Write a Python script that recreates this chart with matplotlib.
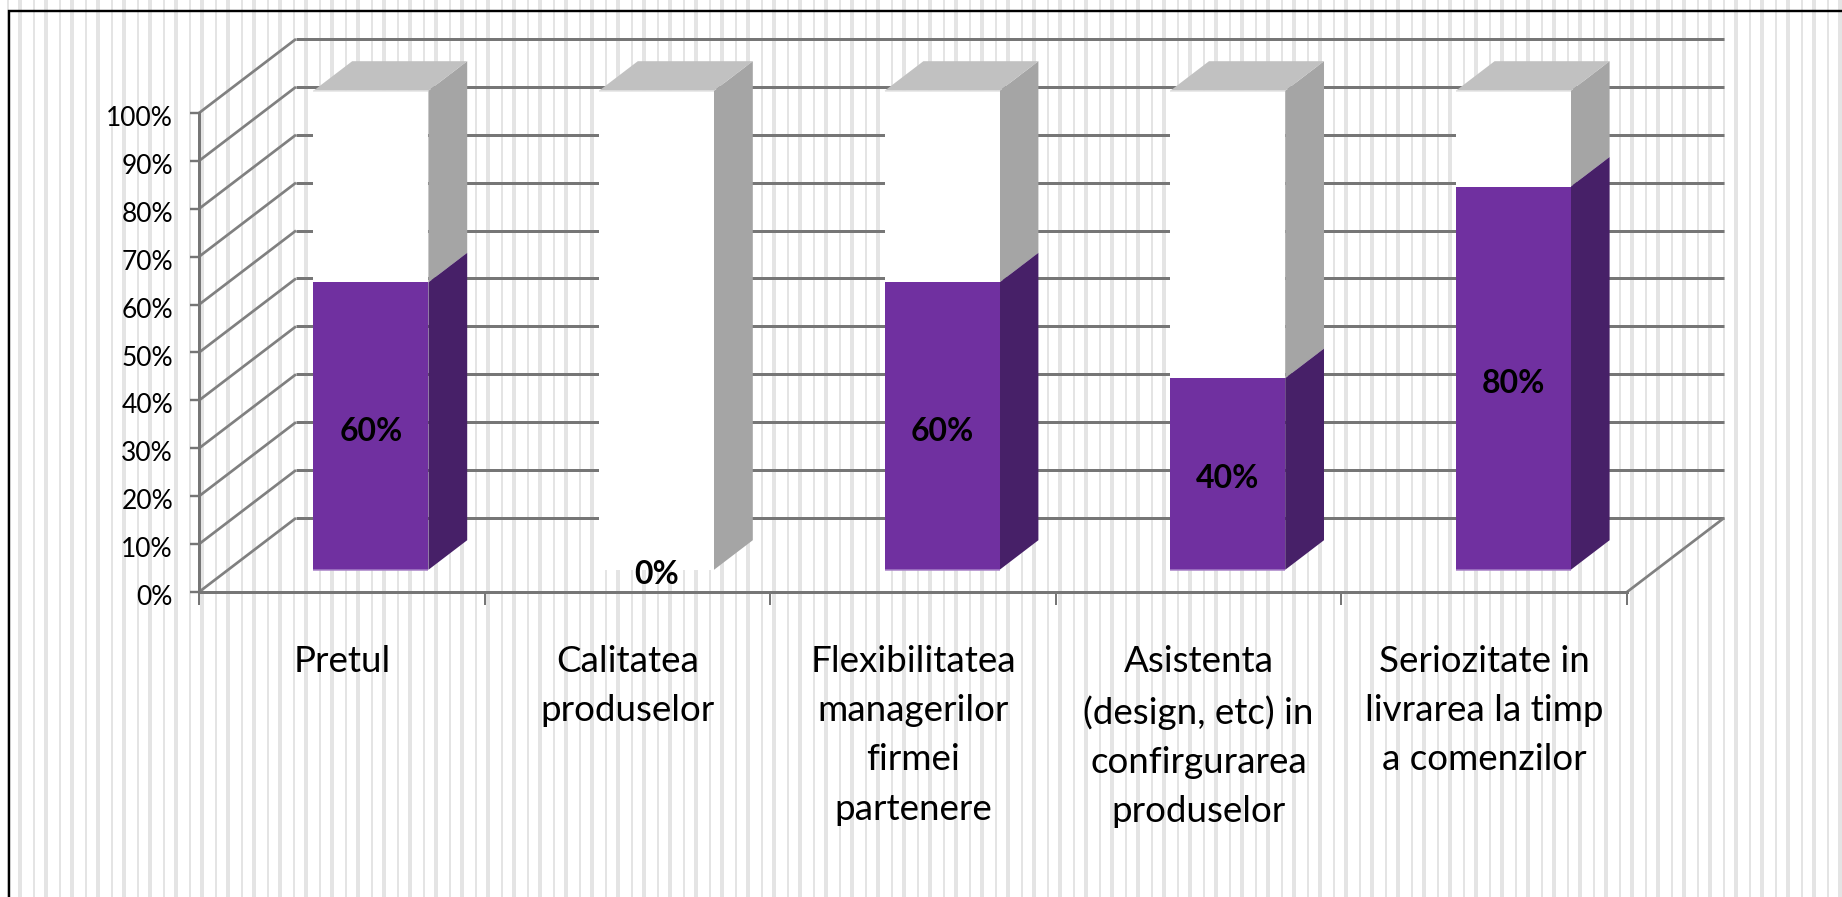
import matplotlib
matplotlib.use("Agg")
import matplotlib.pyplot as plt
from matplotlib.transforms import ScaledTranslation

plt.rcParams["font.family"] = ["Lato", "DejaVu Sans"]

categories = [
    "Pretul",
    "Calitatea\nproduselor",
    "Flexibilitatea\nmanagerilor\nfirmei\npartenere",
    "Asistenta\n(design, etc) in\nconfirgurarea\nproduselor",
    "Seriozitate in\nlivrarea la timp\na comenzilor",
]
values = [60, 0, 60, 40, 80]
remainder = [40, 100, 40, 60, 20]
y_ticks = [0, 10, 20, 30, 40, 50, 60, 70, 80, 90, 100]

PURPLE = "#7030A0"
PURPLE_SIDE = "#472068"
PURPLE_EDGE = "#A67FC7"
WHITE_TOP = "#C1C1C1"
WHITE_SIDE = "#A5A5A5"
WHITE_EDGE = "#E2E2E2"
GRID = "#767676"

W, H = 1842, 897
DPI = 100
px = 72 / DPI

# offset of the back wall, in category units and percent
DX = 97 / 285.6
DY = 74 / 47.9 * 10
BAR_W = 0.4027
BAR_FRONT = 0.3
BAR_BACK = 0.7

fig = plt.figure(figsize=(W / DPI, H / DPI), dpi=DPI)

# striped background and outer frame, in pixel units
bg = fig.add_axes([0, 0, 1, 1], zorder=0)
bg.set_xlim(0, W)
bg.set_ylim(H, 0)
bg.axis("off")
for x in range(-8, W, 26):
    bg.axvspan(x + 15, x + 17, color="#E4E4E4", lw=0)
    bg.axvspan(x, x + 4, color="#E4E4E4", lw=0)
bg.plot([9, 9, W + 5], [H + 5, 11, 11], color="black", lw=2.4 * px, solid_joinstyle="miter")

# main axes sit on the front plane of the 3D box
ax = fig.add_axes([199 / W, 1 - 592 / H, (1627 - 199) / W, (592 - 113) / H], zorder=1)
ax.patch.set_alpha(0)
ax.set_xlim(0, len(categories))
ax.set_ylim(0, 100)


def proj(x, y, depth):
    return x + depth * DX, y + depth * DY


def line(x0, y0, d0, x1, y1, d1, lw=2.4, color=GRID, z=1):
    p0 = proj(x0, y0, d0)
    p1 = proj(x1, y1, d1)
    ax.plot([p0[0], p1[0]], [p0[1], p1[1]], color=color, lw=lw * px, clip_on=False,
            solid_capstyle="butt", zorder=z)


def face(pts, color, z):
    ax.fill([p[0] for p in pts], [p[1] for p in pts], color=color, lw=0, clip_on=False, zorder=z)


# back wall and left side wall gridlines
for t in y_ticks:
    line(0, t, 1, len(categories), t, 1, lw=3)
    line(0, t, 0, 0, t, 1, lw=2.7, color="#808080")
line(len(categories), 0, 0, len(categories), 0, 1, lw=2.7, color="#808080")


def box(i, low, high, front, side, top=None):
    x0 = i + 0.5 - BAR_W / 2
    x1 = i + 0.5 + BAR_W / 2
    face([proj(x1, low, BAR_FRONT), proj(x1, high, BAR_FRONT),
          proj(x1, high, BAR_BACK), proj(x1, low, BAR_BACK)], side, 3)
    face([proj(x0, low, BAR_FRONT), proj(x1, low, BAR_FRONT),
          proj(x1, high, BAR_FRONT), proj(x0, high, BAR_FRONT)], front, 4)
    if top:
        face([proj(x0, high, BAR_FRONT), proj(x1, high, BAR_FRONT),
              proj(x1, high, BAR_BACK), proj(x0, high, BAR_BACK)], top, 3)


for i, (v, r) in enumerate(zip(values, remainder)):
    x0 = i + 0.5 - BAR_W / 2
    x1 = i + 0.5 + BAR_W / 2
    box(i, v, v + r, "white", WHITE_SIDE, WHITE_TOP)
    line(x0, v + r, BAR_FRONT, x1, v + r, BAR_FRONT, lw=1.5, color=WHITE_EDGE, z=5)
    if v > 0:
        box(i, 0, v, PURPLE, PURPLE_SIDE)
        line(x0, 0, BAR_FRONT, x1, 0, BAR_FRONT, lw=1.5, color=PURPLE_EDGE, z=5)
    ax.annotate(f"{v}%", xy=proj(i + 0.5, v / 2, BAR_FRONT), xytext=(0, -5 * px),
                textcoords="offset points", ha="center", va="center", fontsize=23,
                fontweight="bold", color="black", zorder=6, annotation_clip=False)

# axes lines, ticks and labels
for name in ["top", "right"]:
    ax.spines[name].set_visible(False)
for name in ["left", "bottom"]:
    ax.spines[name].set_color(GRID)
    ax.spines[name].set_linewidth(3 * px)
    ax.spines[name].set_zorder(2)

ax.set_yticks(y_ticks)
ax.set_yticklabels([f"{t}%" for t in y_ticks], fontsize=19)
ax.tick_params(axis="y", length=9 * px, width=2.4 * px, color=GRID, pad=17 * px)
for lbl in ax.get_yticklabels():
    lbl.set_transform(lbl.get_transform() + ScaledTranslation(0, -3 / DPI, fig.dpi_scale_trans))

ax.set_xticks(range(len(categories) + 1))
ax.set_xticklabels([])
ax.tick_params(axis="x", which="major", length=13 * px, width=2 * px, color=GRID)
ax.set_xticks([i + 0.5 for i in range(len(categories))], minor=True)
ax.set_xticklabels(categories, minor=True, fontsize=26.5, linespacing=1.6, ha="center", va="top")
ax.tick_params(axis="x", which="minor", length=0, pad=53 * px)

fig.savefig("out.png", dpi=DPI)
